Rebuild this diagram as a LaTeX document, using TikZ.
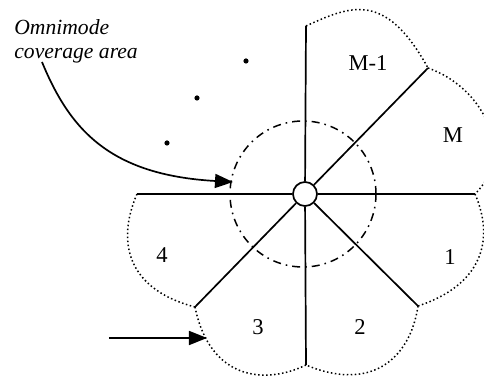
\documentclass[tikz,border=0pt]{standalone}
\usepackage{fontspec}
\setmainfont{Liberation Serif}
\usetikzlibrary{arrows.meta}

\begin{document}
\begin{tikzpicture}[x=0.5pt, y=-0.5pt,
    spoke/.style={line width=0.85pt},
    petal/.style={line width=0.75pt, dash pattern=on 0.75pt off 1.25pt},
    coverage/.style={line width=0.75pt, dash pattern=on 4pt off 2.5pt on 0.8pt off 2.5pt},
    pointer/.style={line width=0.85pt, -{Triangle[length=9pt,width=7pt]}},
    sector/.style={font=\fontsize{11.3}{13}\selectfont}]
    \useasboundingbox (0,0) rectangle (484,379);

    % Vùng phủ omnimode
    \draw[coverage] (303,194) circle[radius=36.5pt];

    % Trạm gốc và các tia
    \node[draw, circle, spoke, fill=white, minimum size=12pt, inner sep=0pt] (hub) at (305,194) {};
    \coordinate (e1)  at (475,194);
    \coordinate (eM)  at (428,68);
    \coordinate (eM1) at (306,26);
    \coordinate (eL)  at (137,194);
    \coordinate (e4)  at (195,307);
    \coordinate (e3)  at (306,365);
    \coordinate (e2)  at (418,306);
    \foreach \e in {e1, eM, eM1, eL, e4, e3, e2}
        \draw[spoke] (hub) -- (\e);

    % Biên các sector
    \draw[petal] (eM1) .. controls (350,6) and (385,-10) .. (eM);
    \draw[petal] (eM) .. controls (485,88) and (515,155) .. (e1);
    \draw[petal] (e1) .. controls (495,240) and (482,285) .. (e2);
    \draw[petal] (e2) .. controls (410,360) and (370,392) .. (e3);
    \draw[petal] (e3) .. controls (265,385) and (210,380) .. (e4);
    \draw[petal] (e4) .. controls (130,290) and (115,245) .. (eL);

    % Nhãn sector
    \node[sector] (sM1) at (368,63) {M-1};
    \node[sector] (sM)  at (453,135) {M};
    \node[sector] (s1)  at (450,257) {1};
    \node[sector] (s2)  at (360,327) {2};
    \node[sector] (s3)  at (258,327) {3};
    \node[sector] (s4)  at (162,255) {4};

    % Các điểm
    \foreach \p in {(246,61), (197,98), (167,143)}
        \fill \p circle[radius=1.3pt];

    % Chú thích
    \node[anchor=north west, inner sep=0pt, align=left,
          font=\fontsize{10.8}{12}\selectfont\itshape] (note) at (14,19)
        {Omnimode\\coverage area};
    \coordinate (from) at (42,62);
    \coordinate (ctip) at (233,182);
    \draw[pointer] (from) .. controls (70,130) and (110,175) .. (ctip);

    \coordinate (feed) at (109,338);
    \coordinate (ftip) at (207,338);
    \draw[pointer] (feed) -- (ftip);
\end{tikzpicture}
\end{document}
